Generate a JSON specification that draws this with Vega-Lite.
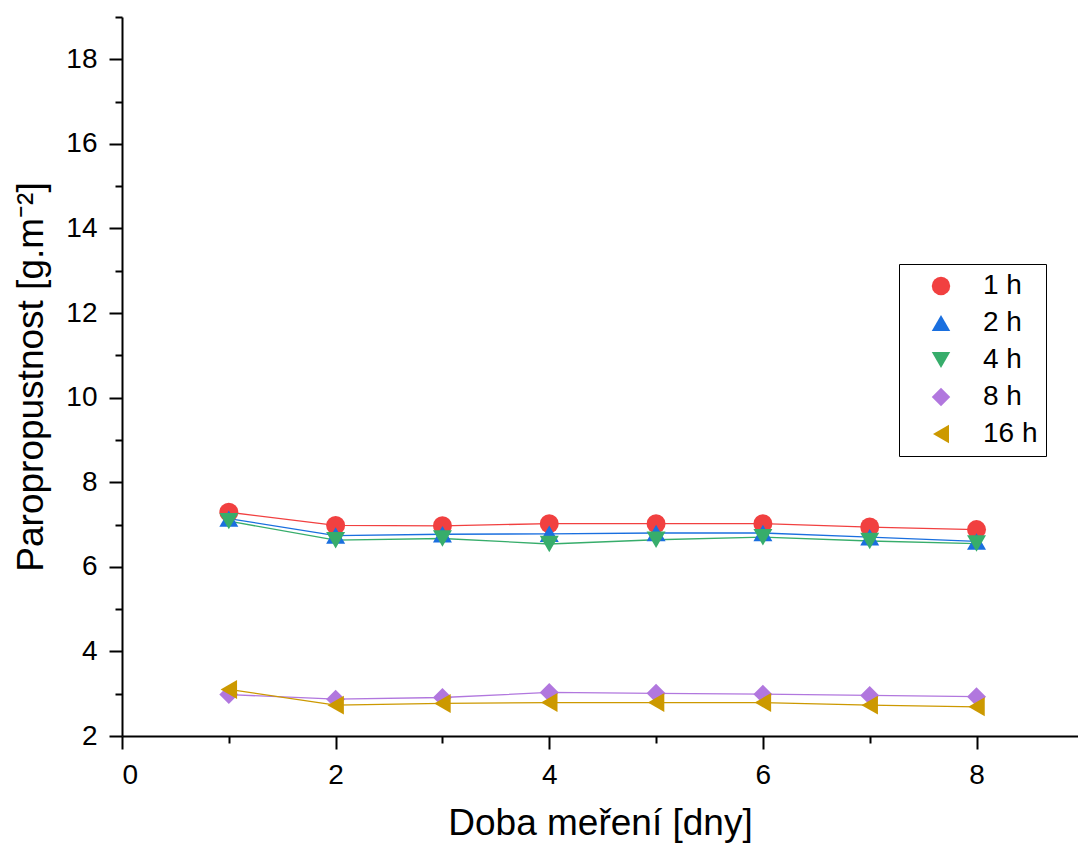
{
  "$schema": "https://vega.github.io/schema/vega-lite/v6.json",
  "width": 956,
  "height": 719,
  "autosize": {"type": "none"},
  "padding": {"left": 122, "top": 17, "right": 0, "bottom": 113},
  "background": "white",
  "config": {
    "view": {"stroke": null},
    "font": "Liberation Sans",
    "axis": {
      "grid": false,
      "domainColor": "black",
      "domainWidth": 2,
      "tickColor": "black",
      "tickWidth": 2,
      "labelFont": "Liberation Sans",
      "labelFontSize": 28,
      "labelColor": "black",
      "titleFont": "Liberation Sans",
      "titleFontSize": 37,
      "titleFontWeight": "normal",
      "titleColor": "black",
      "labelPadding": 12
    }
  },
  "data": {
    "values": [
      {"day": 1, "series": "1 h", "value": 7.29},
      {"day": 2, "series": "1 h", "value": 6.98},
      {"day": 3, "series": "1 h", "value": 6.97},
      {"day": 4, "series": "1 h", "value": 7.02},
      {"day": 5, "series": "1 h", "value": 7.02},
      {"day": 6, "series": "1 h", "value": 7.02},
      {"day": 7, "series": "1 h", "value": 6.94},
      {"day": 8, "series": "1 h", "value": 6.88},
      {"day": 1, "series": "2 h", "value": 7.14},
      {"day": 2, "series": "2 h", "value": 6.74},
      {"day": 3, "series": "2 h", "value": 6.77},
      {"day": 4, "series": "2 h", "value": 6.78},
      {"day": 5, "series": "2 h", "value": 6.8},
      {"day": 6, "series": "2 h", "value": 6.8},
      {"day": 7, "series": "2 h", "value": 6.7},
      {"day": 8, "series": "2 h", "value": 6.6},
      {"day": 1, "series": "4 h", "value": 7.08},
      {"day": 2, "series": "4 h", "value": 6.63},
      {"day": 3, "series": "4 h", "value": 6.67},
      {"day": 4, "series": "4 h", "value": 6.54},
      {"day": 5, "series": "4 h", "value": 6.64},
      {"day": 6, "series": "4 h", "value": 6.7},
      {"day": 7, "series": "4 h", "value": 6.61},
      {"day": 8, "series": "4 h", "value": 6.55},
      {"day": 1, "series": "8 h", "value": 2.98},
      {"day": 2, "series": "8 h", "value": 2.87},
      {"day": 3, "series": "8 h", "value": 2.91},
      {"day": 4, "series": "8 h", "value": 3.03},
      {"day": 5, "series": "8 h", "value": 3.01},
      {"day": 6, "series": "8 h", "value": 2.99},
      {"day": 7, "series": "8 h", "value": 2.96},
      {"day": 8, "series": "8 h", "value": 2.93},
      {"day": 1, "series": "16 h", "value": 3.1},
      {"day": 2, "series": "16 h", "value": 2.73},
      {"day": 3, "series": "16 h", "value": 2.77},
      {"day": 4, "series": "16 h", "value": 2.79},
      {"day": 5, "series": "16 h", "value": 2.79},
      {"day": 6, "series": "16 h", "value": 2.79},
      {"day": 7, "series": "16 h", "value": 2.73},
      {"day": 8, "series": "16 h", "value": 2.69}
    ]
  },
  "encoding": {
    "x": {
      "field": "day",
      "type": "quantitative",
      "scale": {"domain": [0, 8.95], "nice": false, "zero": false},
      "axis": {
        "title": "Doba meření [dny]",
        "values": [0, 1, 2, 3, 4, 5, 6, 7, 8],
        "labelExpr": "datum.value % 2 === 0 ? datum.label : ''",
        "tickSize": {"condition": {"test": "datum.value % 2 === 1", "value": 7}, "value": 13},
        "titlePadding": 16
      }
    },
    "y": {
      "field": "value",
      "type": "quantitative",
      "scale": {"domain": [2, 19], "nice": false, "zero": false},
      "axis": {
        "title": "Paropropustnost [g.m⁻²]",
        "values": [2, 3, 4, 5, 6, 7, 8, 9, 10, 11, 12, 13, 14, 15, 16, 17, 18, 19],
        "labelExpr": "datum.value % 2 === 0 ? datum.label : ''",
        "tickSize": {"condition": {"test": "datum.value % 2 === 1", "value": 7}, "value": 13},
        "titlePadding": 15
      }
    }
  },
  "layer": [
    {
      "mark": {"type": "line", "strokeWidth": 1.3},
      "encoding": {
        "color": {
          "field": "series",
          "type": "nominal",
          "sort": ["1 h", "2 h", "4 h", "8 h", "16 h"],
          "scale": {
            "domain": ["1 h", "2 h", "4 h", "8 h", "16 h"],
            "range": ["#F14040", "#1A6FDF", "#37AD6B", "#B177DE", "#CC9900"]
          }
        }
      }
    },
    {
      "mark": {"type": "point", "filled": true, "opacity": 1, "size": 360},
      "encoding": {
        "color": {
          "field": "series",
          "type": "nominal",
          "sort": ["1 h", "2 h", "4 h", "8 h", "16 h"],
          "scale": {
            "domain": ["1 h", "2 h", "4 h", "8 h", "16 h"],
            "range": ["#F14040", "#1A6FDF", "#37AD6B", "#B177DE", "#CC9900"]
          },
          "legend": {
            "orient": "none",
            "legendX": 777,
            "legendY": 247,
            "title": null,
            "strokeColor": "black",
            "fillColor": "white",
            "padding": 8,
            "labelFont": "Liberation Sans",
            "labelFontSize": 28,
            "labelColor": "black",
            "symbolSize": 340,
            "symbolOffset": 20,
            "labelOffset": 28,
            "rowPadding": 9,
            "symbolStrokeWidth": 0,
            "symbolOpacity": 1
          }
        },
        "shape": {
          "field": "series",
          "type": "nominal",
          "sort": ["1 h", "2 h", "4 h", "8 h", "16 h"],
          "scale": {
            "domain": ["1 h", "2 h", "4 h", "8 h", "16 h"],
            "range": ["circle", "triangle-up", "triangle-down", "diamond", "triangle-left"]
          }
        }
      }
    }
  ]
}
